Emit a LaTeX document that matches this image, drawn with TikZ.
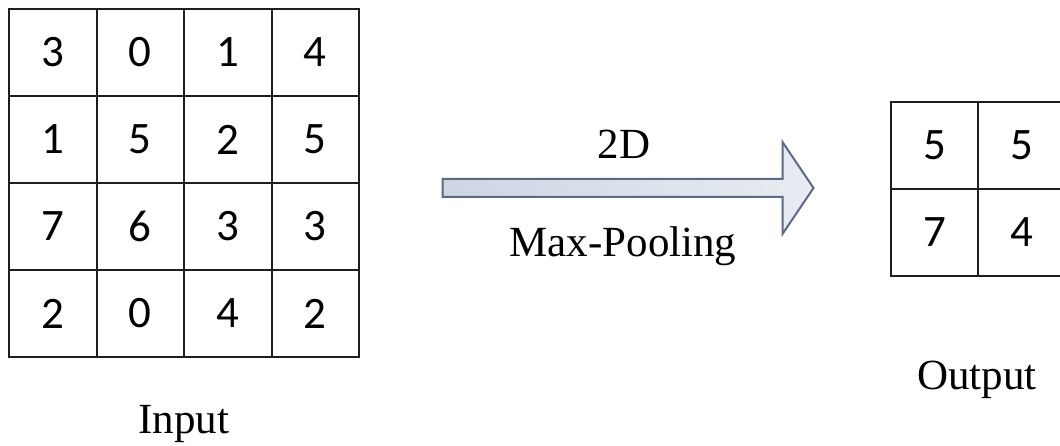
\documentclass[tikz,border=0pt]{standalone}
\usepackage{fontspec}
\setmainfont{Liberation Serif}
\newfontfamily\digitfont{Carlito}
\usepackage{tikz}
\usetikzlibrary{shapes.arrows}
\definecolor{arrowedge}{RGB}{92,106,136}
\definecolor{arrowleft}{RGB}{206,214,227}
\definecolor{arrowright}{RGB}{232,236,242}
\definecolor{gridline}{RGB}{30,30,30}

\begin{document}
\begin{tikzpicture}
[x=0.5pt,y=0.5pt,
 cell/.style={draw=gridline,line width=1pt,minimum width=43.75pt,minimum height=43.5pt,inner sep=0pt,font=\digitfont\fontsize{22.5}{26}\selectfont},
 lbl/.style={inner sep=0pt,font=\fontsize{21.5}{26}\selectfont},
 poolarrow/.style={single arrow,draw=arrowedge,line width=1pt,left color=arrowleft,right color=arrowright,
   inner xsep=0pt,inner ysep=4pt,minimum height=185.5pt,single arrow head extend=18.5pt,single arrow tip angle=112}]
\useasboundingbox (0,0) rectangle (1060,445);
% input grid
\foreach \row [count=\r] in {{3,0,1,4},{1,5,2,5},{7,6,3,3},{2,0,4,2}}
  \foreach \v [count=\c] in \row \node[cell] (in\r\c) at ({-34.75+87.5*\c},{479.5-87*\r}) {\v};
\node[lbl] (inlabel) at (184,21) {Input};
% pooling arrow
\node[poolarrow] (pool) at (625,257) {};
\node[lbl] (dimlabel) at (624,301) {2D};
\node[lbl] (poollabel) at (623,199) {Max-Pooling};
% output grid
\foreach \row [count=\r] in {{5,5},{7,4}}
  \foreach \v [count=\c] in \row \node[cell] (out\r\c) at ({847.5+87*\c},{386.5-87*\r}) {\v};
\node[lbl] (outlabel) at (977,65) {Output};
\end{tikzpicture}
\end{document}
